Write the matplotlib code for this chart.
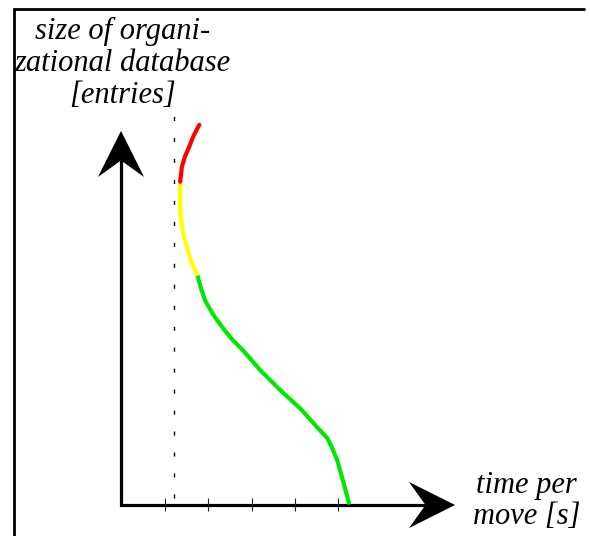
import numpy as np
from matplotlib import pyplot as plt
from matplotlib.patches import Polygon

# curve: time per move vs size of organizational database (arbitrary units)
red_t = [1.80, 1.66, 1.57, 1.47, 1.40, 1.36]
red_s = [8.74, 8.47, 8.24, 8.01, 7.78, 7.43]
yellow_t = [1.36, 1.36, 1.37, 1.43, 1.51, 1.60, 1.70, 1.76]
yellow_s = [7.43, 7.01, 6.63, 6.25, 5.94, 5.63, 5.40, 5.27]
green_t = [1.76, 1.84, 1.93, 2.11, 2.34, 2.56, 2.80, 3.20, 3.66, 4.11, 4.57, 4.74, 4.86, 4.97, 5.10, 5.24]
green_s = [5.27, 4.98, 4.71, 4.39, 4.07, 3.80, 3.56, 3.10, 2.64, 2.23, 1.72, 1.54, 1.30, 1.03, 0.57, 0.05]

ticks = [1, 2, 3, 4, 5]
limit_t = 1.22

fig = plt.figure(figsize=(5.9, 5.36), dpi=100)
ax = fig.add_axes([0, 0, 1, 1])
ax.set_xlim(-2.782, 10.782)
ax.set_ylim(-0.7126, 11.609)
ax.axis('off')

# frame (top and left only)
ax.plot([-2.46, -2.46, 10.67], [-0.72, 11.40, 11.40], color='black', lw=2,
        solid_joinstyle='miter', solid_capstyle='butt')

xtip, ytip = 7.68, 8.60
hl, hw, notch = 1.06, 0.53, 0.68

ax.plot([0, 0, xtip - notch], [ytip - notch, 0, 0], color='black', lw=2.3,
        solid_joinstyle='miter', solid_capstyle='butt')
ax.add_patch(Polygon([(0, ytip), (-hw, ytip - hl), (0, ytip - notch), (hw, ytip - hl)],
                     closed=True, color='black', lw=0))
ax.add_patch(Polygon([(xtip, 0), (xtip - hl, hw), (xtip - notch, 0), (xtip - hl, -hw)],
                     closed=True, color='black', lw=0))

ax.vlines(ticks, -0.14, 0.16, color='#222222', lw=0.8)
ax.plot([limit_t, limit_t], [0.16, 9.01], color='black', lw=1, linestyle=(0, (2.9, 12.2)))

ax.plot(green_t, green_s, color='#00e800', lw=3, solid_capstyle='round', solid_joinstyle='round')
ax.plot(yellow_t, yellow_s, color='#ffff00', lw=3, solid_capstyle='butt', solid_joinstyle='round')
ax.plot(red_t, red_s, color='#ff0000', lw=3, solid_capstyle='round', solid_joinstyle='round')

font = dict(family='Liberation Serif', style='italic', fontsize=22)
ax.text(0.03, 11.21, 'size of organi-\nzational database\n[entries]', ha='center', va='top',
        linespacing=1.13, **font)
ax.text(9.33, 0.78, 'time per\nmove [s]', ha='center', va='top', linespacing=1.1, **font)

plt.savefig('out.png')
